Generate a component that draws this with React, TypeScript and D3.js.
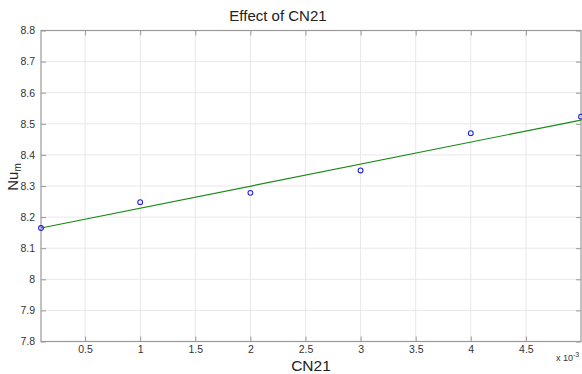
import { useRef, useEffect } from "react";
import * as d3 from "d3";

// measured points (x in units of 1e-3)
const cnValues = [0.1, 1, 2, 3, 4, 5];
const nuValues = [8.165, 8.248, 8.278, 8.35, 8.47, 8.523];

// fitted line endpoints
const fitX = [0.1, 5];
const fitY = [8.165, 8.512];

const xTicks = [0.5, 1, 1.5, 2, 2.5, 3, 3.5, 4, 4.5];
const yTicks = [7.8, 7.9, 8, 8.1, 8.2, 8.3, 8.4, 8.5, 8.6, 8.7, 8.8];

const W = 582;
const H = 374;

export default function App() {
  const svgRef = useRef<SVGSVGElement>(null);

  useEffect(() => {
    const svg = d3.select(svgRef.current);
    svg.selectAll("*").remove();

    const margin = { top: 30.5, right: 1, bottom: 32.5, left: 41 };
    const innerW = W - margin.left - margin.right;
    const innerH = H - margin.top - margin.bottom;
    const font = "'Liberation Sans', Arial, sans-serif";

    const x = d3.scaleLinear().domain([0.1, 5]).range([0, innerW]);
    const y = d3.scaleLinear().domain([7.8, 8.8]).range([innerH, 0]);

    svg.append("rect").attr("width", W).attr("height", H).attr("fill", "#fff");

    const g = svg.append("g")
      .attr("transform", `translate(${margin.left},${margin.top})`);

    // grid
    g.append("g")
      .selectAll("line")
      .data(xTicks)
      .join("line")
      .attr("x1", d => x(d)).attr("x2", d => x(d))
      .attr("y1", 0).attr("y2", innerH)
      .attr("stroke", "#e8e8e8");
    g.append("g")
      .selectAll("line")
      .data(yTicks.slice(1, -1))
      .join("line")
      .attr("x1", 0).attr("x2", innerW)
      .attr("y1", d => y(d)).attr("y2", d => y(d))
      .attr("stroke", "#e8e8e8");

    const axisColor = "#999";

    // bottom axis, ticks inward
    const xAxis = g.append("g")
      .attr("transform", `translate(0,${innerH})`)
      .call(d3.axisBottom(x).tickValues(xTicks).tickSize(-5).tickPadding(4)
        .tickFormat(d => String(d)));
    xAxis.select(".domain").remove();
    xAxis.selectAll("line").attr("stroke", axisColor);
    xAxis.selectAll("text")
      .attr("fill", "#333").attr("font-size", 10.5).attr("font-family", font);

    // top ticks
    g.append("g")
      .call(d3.axisTop(x).tickValues(xTicks).tickSize(-5).tickFormat(() => ""))
      .call(s => s.select(".domain").remove())
      .selectAll("line").attr("stroke", axisColor);

    const yAxis = g.append("g")
      .call(d3.axisLeft(y).tickValues(yTicks).tickSize(-5).tickPadding(6)
        .tickFormat(d => String(d)));
    yAxis.select(".domain").remove();
    yAxis.selectAll("line").attr("stroke", axisColor);
    yAxis.selectAll("text")
      .attr("fill", "#333").attr("font-size", 10.5).attr("font-family", font);

    g.append("g")
      .attr("transform", `translate(${innerW},0)`)
      .call(d3.axisRight(y).tickValues(yTicks).tickSize(-5).tickFormat(() => ""))
      .call(s => s.select(".domain").remove())
      .selectAll("line").attr("stroke", axisColor);

    // box
    g.append("rect")
      .attr("width", innerW).attr("height", innerH)
      .attr("fill", "none").attr("stroke", axisColor).attr("stroke-width", 1.2);

    // fit line
    const line = d3.line<number>()
      .x((_, i) => x(fitX[i]))
      .y(d => y(d));
    g.append("path")
      .datum(fitY)
      .attr("d", line)
      .attr("fill", "none")
      .attr("stroke", "#1a8a1a")
      .attr("stroke-width", 1.2);

    // markers
    g.selectAll(".pt")
      .data(nuValues)
      .join("circle")
      .attr("class", "pt")
      .attr("cx", (_, i) => x(cnValues[i]))
      .attr("cy", d => y(d))
      .attr("r", 2.4)
      .attr("fill", "none")
      .attr("stroke", "#2222dd")
      .attr("stroke-width", 1.1);

    // title
    svg.append("text")
      .attr("x", 278).attr("y", 21)
      .attr("text-anchor", "middle")
      .attr("font-size", 15).attr("font-family", font).attr("fill", "#222")
      .text("Effect of CN21");

    // x label
    svg.append("text")
      .attr("x", 311).attr("y", 371)
      .attr("text-anchor", "middle")
      .attr("font-size", 15.5).attr("font-family", font).attr("fill", "#222")
      .text("CN21");

    // exponent
    const ex = svg.append("text")
      .attr("x", 556).attr("y", 361)
      .attr("font-size", 9).attr("font-family", font).attr("fill", "#333");
    ex.append("tspan").text("x 10");
    ex.append("tspan").attr("dy", -4).attr("font-size", 7).text("-3");

    // y label
    const yl = svg.append("text")
      .attr("transform", "translate(18,177) rotate(-90)")
      .attr("text-anchor", "middle")
      .attr("font-size", 15).attr("font-family", font).attr("fill", "#222");
    yl.append("tspan").text("Nu");
    yl.append("tspan").attr("dy", 3).attr("font-size", 10).text("m");
  }, []);

  return (
    <svg
      ref={svgRef}
      width={W}
      height={H}
      style={{ position: "absolute", left: 0, top: 0, display: "block" }}
    />
  );
}
